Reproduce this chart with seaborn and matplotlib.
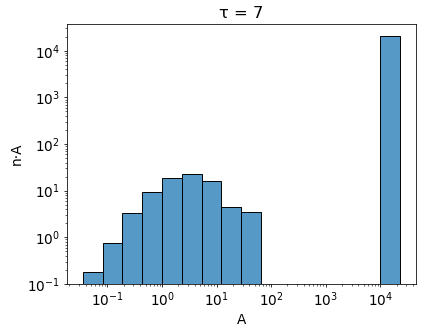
import numpy as np
import pandas as pd
import matplotlib
matplotlib.use("Agg")
import matplotlib.pyplot as plt
import seaborn as sns

# bordas dos bins em log10(A): largura de 4/11 década
log_edges = [k * 4 / 11 for k in range(-4, 13)]
# altura de cada barra (n·A)
n_A = [0.18, 0.74, 3.25, 9.5, 19.0, 22.5, 16.0, 4.4, 3.5,
       0, 0, 0, 0, 0, 0, 2.09e4]

centros = 10 ** ((np.array(log_edges[:-1]) + np.array(log_edges[1:])) / 2)
df = pd.DataFrame({"A": centros, "nA": n_A})

plt.rcParams["font.size"] = 14

# figura renderizada a 70 dpi para reproduzir a escala do original
fig, ax = plt.subplots(figsize=(423 / 70, 331 / 70), dpi=70)
sns.histplot(data=df, x="A", weights="nA", bins=log_edges, log_scale=True,
             color="C0", alpha=0.75, edgecolor="black", linewidth=1, ax=ax)
ax.set_yscale("log")
ax.set_ylim(0.1, 10 ** 4.57)
ax.set_title("τ = 7")
ax.set_xlabel("A")
ax.set_ylabel("n·A")
fig.subplots_adjust(left=0.158, right=0.983, bottom=0.142, top=0.927)
fig.savefig("out.png", dpi=70)
